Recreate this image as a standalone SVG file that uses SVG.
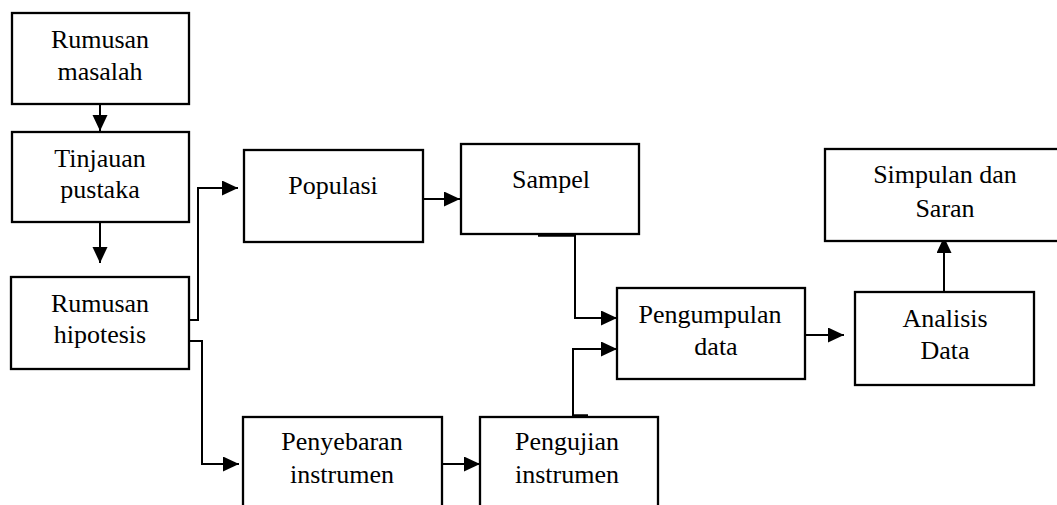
<svg xmlns="http://www.w3.org/2000/svg" width="1057" height="505" viewBox="0 0 1057 505">
<defs>
<style>
.box{fill:#fff;stroke:#000;stroke-width:2.3}
.c{fill:none;stroke:#000;stroke-width:2;marker-end:url(#ah)}
.stub{stroke:#000;stroke-width:3.5;fill:none}
</style>
<marker id="ah" markerUnits="userSpaceOnUse" markerWidth="17" markerHeight="16" refX="16" refY="7.5" orient="auto">
<path d="M0,0 L16,7.5 L0,15 z" fill="#000"/>
</marker>
</defs>
<rect width="1057" height="505" fill="#fff"/>
<g id="connectors">
<path class="c" d="M100,104 V131"/>
<path class="c" d="M100,222 V263"/>
<path class="c" d="M189,320 H198 V188 H238"/>
<path class="c" d="M189,341 H202 V464 H239"/>
<path class="c" d="M423,199 H460"/>
<path class="c" d="M575,236 V318 H617"/>
<path class="stub" d="M538,235 H576"/>
<path class="c" d="M442,464 H480"/>
<path class="c" d="M573,416 V349 H617"/>
<path class="stub" d="M572,416 H588"/>
<path class="c" d="M805,335 H844"/>
<path class="c" d="M944,292 V237"/>
</g>
<g font-family="Liberation Serif, Times New Roman, serif" font-size="26" text-anchor="middle" fill="#000">
<g id="n1"><rect class="box" x="12" y="13" width="177" height="91"/><text x="100" y="48">Rumusan</text><text x="100" y="80">masalah</text></g>
<g id="n2"><rect class="box" x="12" y="132" width="177" height="90"/><text x="100" y="167">Tinjauan</text><text x="100" y="198">pustaka</text></g>
<g id="n3"><rect class="box" x="11" y="277" width="178" height="92"/><text x="100" y="312">Rumusan</text><text x="100" y="343">hipotesis</text></g>
<g id="n4"><rect class="box" x="244" y="150" width="179" height="92"/><text x="333" y="194">Populasi</text></g>
<g id="n5"><rect class="box" x="461" y="144" width="178" height="90"/><text x="551" y="188">Sampel</text></g>
<g id="n6"><rect class="box" x="617" y="288" width="188" height="91"/><text x="710" y="323">Pengumpulan</text><text x="716" y="355">data</text></g>
<g id="n7"><rect class="box" x="855" y="292" width="179" height="93"/><text x="945" y="327">Analisis</text><text x="945" y="359">Data</text></g>
<g id="n8"><rect class="box" x="825" y="149" width="240" height="92"/><text x="945" y="183">Simpulan dan</text><text x="945" y="217">Saran</text></g>
<g id="n9"><rect class="box" x="243" y="417" width="199" height="100"/><text x="342" y="450">Penyebaran</text><text x="342" y="483">instrumen</text></g>
<g id="n10"><rect class="box" x="480" y="417" width="178" height="100"/><text x="567" y="450">Pengujian</text><text x="567" y="483">instrumen</text></g>
</g>
</svg>
